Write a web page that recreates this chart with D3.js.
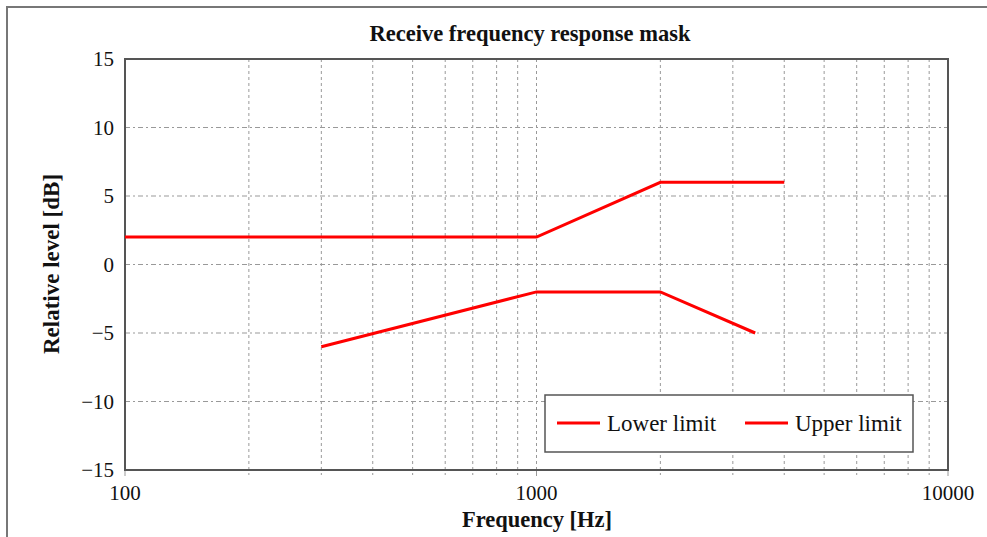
<!DOCTYPE html>
<html>
<head>
<meta charset="utf-8">
<script src="https://cdn.jsdelivr.net/npm/d3@7"></script>
<style>
  body { margin: 0; background: #fff; }
  text { font-family: "Liberation Serif", "Times New Roman", serif; fill: #111; }
</style>
</head>
<body>
<script>
// series data
const upperFreq = [100, 1000, 2000, 4000];
const upperLevel = [2, 2, 6, 6];
const lowerFreq = [300, 1000, 2000, 3400];
const lowerLevel = [-6, -2, -2, -5];
const xTicks = [100, 1000, 10000];
const xMinor = [200, 300, 400, 500, 600, 700, 800, 900, 2000, 3000, 4000, 5000, 6000, 7000, 8000, 9000];
const yTicks = [-15, -10, -5, 0, 5, 10, 15];
const legendNames = ["Lower limit", "Upper limit"];

const width = 987, height = 537;
const margin = {left: 125, top: 59, right: 39, bottom: 67};

const svg = d3.select("body").append("svg").attr("width", width).attr("height", height);

// outer frame
svg.append("rect").attr("x", 7).attr("y", 7).attr("width", 1000).attr("height", 600)
  .attr("fill", "none").attr("stroke", "#777").attr("stroke-width", 2);

const x = d3.scaleLog().domain([100, 10000]).range([margin.left, width - margin.right]);
const y = d3.scaleLinear().domain([-15, 15]).range([height - margin.bottom, margin.top]);

// grid
const gridColor = "#999";
svg.append("g").selectAll("line").data(xMinor.concat([1000])).join("line")
  .attr("x1", d => x(d)).attr("x2", d => x(d))
  .attr("y1", y(15)).attr("y2", y(-15) + 5)
  .attr("stroke", gridColor).attr("stroke-width", 1).attr("stroke-dasharray", "3,3");
svg.append("g").selectAll("line").data(yTicks.filter(d => d > -15 && d < 15)).join("line")
  .attr("x1", x(100)).attr("x2", x(10000))
  .attr("y1", d => y(d)).attr("y2", d => y(d))
  .attr("stroke", gridColor).attr("stroke-width", 1).attr("stroke-dasharray", "5,3,2,3");

// major x ticks below the axis
svg.append("g").selectAll("line").data(xTicks).join("line")
  .attr("x1", d => x(d)).attr("x2", d => x(d))
  .attr("y1", y(-15)).attr("y2", y(-15) + 6)
  .attr("stroke", gridColor).attr("stroke-width", 1);

// plot frame
svg.append("rect").attr("x", x(100)).attr("y", y(15))
  .attr("width", x(10000) - x(100)).attr("height", y(-15) - y(15))
  .attr("fill", "none").attr("stroke", "#555").attr("stroke-width", 2);

// tick labels
svg.append("g").selectAll("text").data(yTicks).join("text")
  .attr("x", x(100) - 11).attr("y", d => y(d)).attr("dy", "0.35em")
  .attr("text-anchor", "end").style("font-size", "21px")
  .text(d => d < 0 ? "\u2212" + Math.abs(d) : d);
svg.append("g").selectAll("text").data(xTicks).join("text")
  .attr("x", d => x(d)).attr("y", y(-15) + 30)
  .attr("text-anchor", "middle").style("font-size", "21px")
  .text(d => d);

// titles
svg.append("text").attr("x", 530).attr("y", 41).attr("text-anchor", "middle")
  .style("font-size", "22.5px").style("font-weight", "bold").text("Receive frequency response mask");
svg.append("text").attr("x", 537).attr("y", 527).attr("text-anchor", "middle")
  .style("font-size", "22.5px").style("font-weight", "bold").text("Frequency [Hz]");
svg.append("text").attr("transform", "translate(59," + 264 + ") rotate(-90)")
  .attr("text-anchor", "middle")
  .style("font-size", "23px").style("font-weight", "bold").text("Relative level [dB]");

// lines
const line = d3.line().x(d => x(d[0])).y(d => y(d[1]));
const series = [d3.zip(lowerFreq, lowerLevel), d3.zip(upperFreq, upperLevel)];
svg.append("g").selectAll("path").data(series).join("path")
  .attr("d", line).attr("fill", "none").attr("stroke", "#ff0000").attr("stroke-width", 3);

// legend
const lg = svg.append("g");
lg.append("rect").attr("x", 545).attr("y", 395).attr("width", 368).attr("height", 57)
  .attr("fill", "#fff").attr("stroke", "#555").attr("stroke-width", 1.5);
const legendX = [557, 745];
legendNames.forEach((name, i) => {
  lg.append("line").attr("x1", legendX[i]).attr("x2", legendX[i] + 43)
    .attr("y1", 423).attr("y2", 423).attr("stroke", "#ff0000").attr("stroke-width", 3);
  lg.append("text").attr("x", legendX[i] + 50).attr("y", 431)
    .style("font-size", "23px").text(name);
});
</script>
</body>
</html>
